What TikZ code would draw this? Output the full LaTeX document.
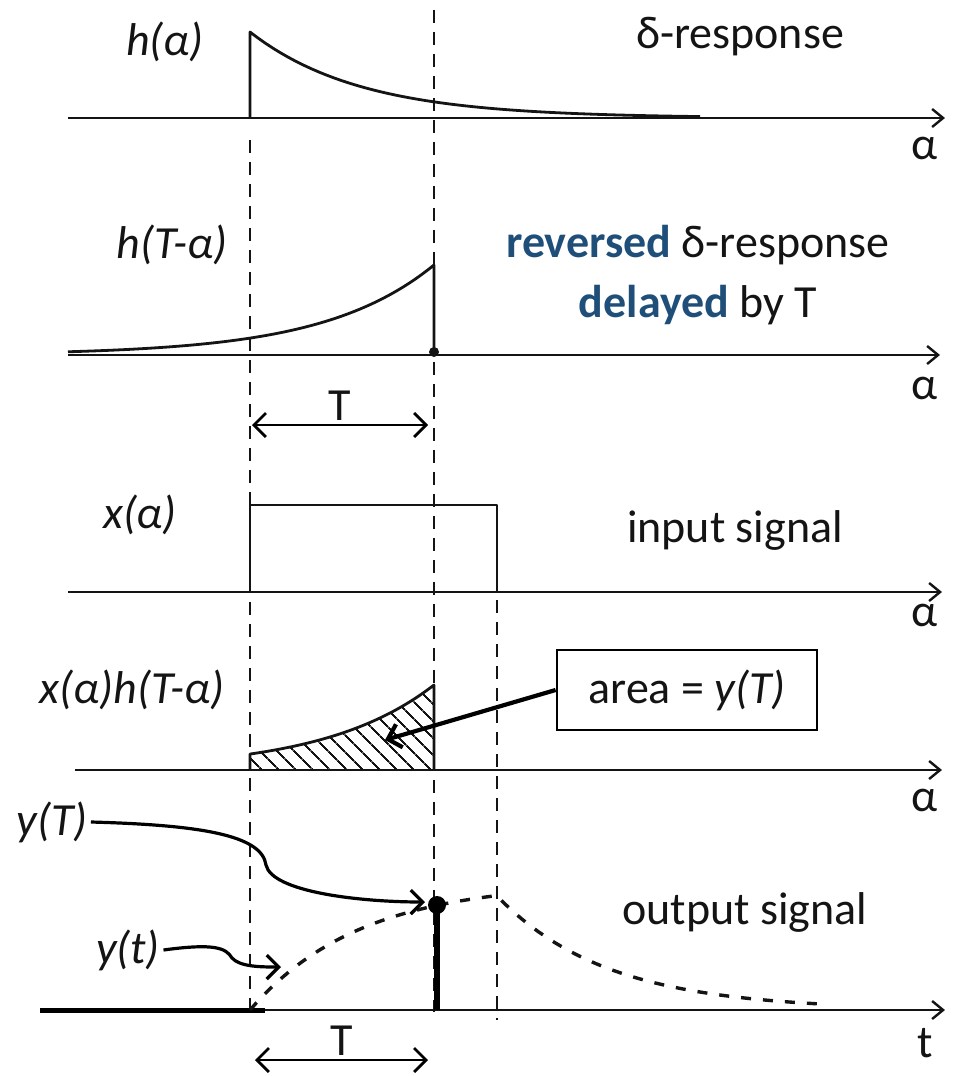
\documentclass[tikz,border=0pt]{standalone}
\usepackage{fontspec}
\setmainfont{Carlito}
\usetikzlibrary{arrows.meta,positioning,patterns.meta}
\definecolor{sigInk}{HTML}{141414}
\definecolor{sigBlue}{HTML}{1F4E79}
\tikzset{
  every picture/.style={font=\fontsize{46}{60}\selectfont, text=sigInk},
  sig axis/.style={draw=sigInk, line width=2.6pt,
    -{Straight Barb[length=11pt,width=18pt,line width=2.4pt]}},
  sig curve/.style={draw=sigInk, line width=2.8pt, line join=round},
  sig guide/.style={draw=sigInk, line width=1.8pt, dash pattern=on 13pt off 9pt},
  sig output/.style={draw=sigInk, line width=3.4pt, dash pattern=on 10pt off 12pt},
  sig arrow/.style={-{Straight Barb[length=12pt,width=24pt]},
    draw=black, line width=3.2pt},
  sig span/.style={{Straight Barb[length=12pt,width=24pt]}-{Straight Barb[length=12pt,width=24pt]},
    draw=black, line width=2.8pt},
  sig hatch/.style={pattern={Lines[angle=-45,distance=13pt,line width=2pt]},
    pattern color=sigInk},
  sig box/.style={draw=black, line width=2.8pt, minimum width=260pt, minimum height=80pt},
  sig name/.style={font=\fontsize{46}{52}\selectfont\itshape}
}
\begin{document}
\begin{tikzpicture}[x=1pt,y=-1pt]
  \useasboundingbox (0,0) rectangle (961,1076);
  \foreach \x/\ya/\yb in {250/140/1015, 434/10/1012, 497/600/1020}
    \draw[sig guide] (\x,\ya) -- (\x,\yb);
  % delta response
  \draw[sig axis] (68,118) -- (945,118);
  \draw[sig curve] (250,118) -- (250,32) -- plot[domain=250:700,samples=60] (\x,{118-86*exp(-(\x-250)/110)});
  \node[sig name] (hlab) at (165,42) {h(α)};
  \node (hname) at (740,37) {δ-response};
  \node (a1) at (925,148) {α};
  % reversed and delayed
  \draw[sig axis] (68,355) -- (940,355);
  \draw[sig curve] plot[domain=68:434,samples=60] (\x,{355-90*exp(-(434-\x)/110)}) -- (434,355);
  \fill[sigInk] (434,352) circle (5pt);
  \node[sig name] (hrevlab) at (172,245) {h(T-α)};
  \node[align=center] (hrevname) at (698,275) {\textcolor{sigBlue}{\bfseries reversed} δ-response\\\textcolor{sigBlue}{\bfseries delayed} by T};
  \node (a2) at (925,388) {α};
  \coordinate (s1l) at (252,425);
  \coordinate (s1r) at (428,425);
  \draw[sig span] (s1l) -- (s1r) node[midway,above=0pt] (t1) {T};
  % input
  \draw[sig axis] (68,592) -- (942,592);
  \draw[sig curve] (250,592) -- (250,505) -- (497,505) -- (497,592);
  \node[sig name] (xlab) at (140,515) {x(α)};
  \node (xname) at (735,530) {input signal};
  \node (a3) at (925,615) {α};
  % product
  \draw[sig axis] (75,770) -- (942,770);
  \fill[sig hatch] (250,770) -- plot[domain=250:434,samples=40] (\x,{770-85*exp(-(434-\x)/110)}) -- (434,770) -- cycle;
  \draw[sig curve] (250,770) -- plot[domain=250:434,samples=40] (\x,{770-85*exp(-(434-\x)/110)}) -- (434,770);
  \node[sig name] (prodlab) at (132,690) {x(α)h(T-α)};
  \node[sig box] (area) at (687,690) {area = \textit{y(T)}};
  \coordinate (hatchpt) at (385,740);
  \draw[sig arrow, line width=4.2pt] (area.west) -- (hatchpt);
  \node (a4) at (925,800) {α};
  % output
  \draw[sig axis] (40,1010) -- (945,1010);
  \draw[line width=5pt] (40,1010) -- (265,1010);
  \draw[sig output] plot[domain=250:497,samples=40] (\x,{1010-128*(1-exp(-(\x-250)/110))})
    -- plot[domain=497:820,samples=40] (\x,{1010-114*exp(-(\x-497)/110)});
  \draw[line width=6pt] (437,1010) -- (437,905);
  \fill (437,905) circle (9pt);
  \node[sig name] (yTlab) at (52,822) {y(T)};
  \coordinate (yTtip) at (425,902);
  \draw[sig arrow] (yTlab.east) .. controls (200,825) and (262,835) .. (266,865)
    .. controls (272,892) and (360,902) .. (yTtip);
  \node[sig name] (ytlab) at (128,950) {y(t)};
  \coordinate (yttip) at (281,967);
  \draw[sig arrow] (ytlab.east) .. controls (215,943) and (226,948) .. (232,958)
    .. controls (240,967) and (262,967) .. (yttip);
  \node (oname) at (745,912) {output signal};
  \node (tlab) at (925,1043) {t};
  \coordinate (s2l) at (255,1060);
  \coordinate (s2r) at (428,1060);
  \draw[sig span] (s2l) -- (s2r) node[midway,above=0pt] (t2) {T};
\end{tikzpicture}
\end{document}
